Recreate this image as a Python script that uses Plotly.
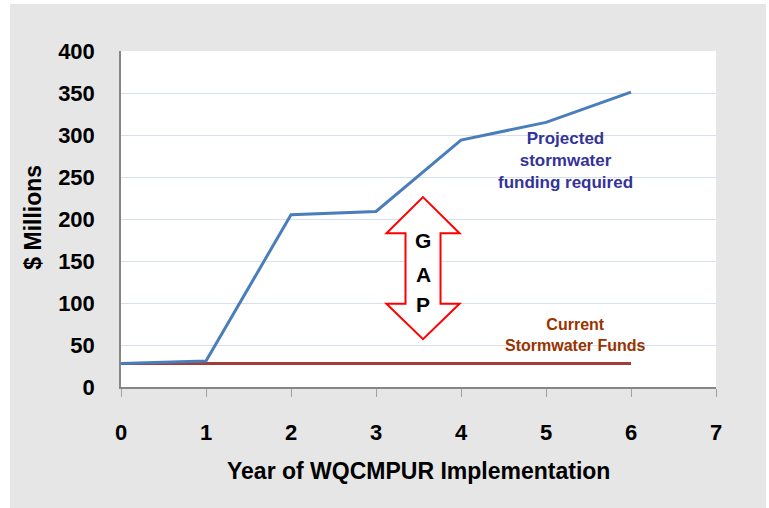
import plotly.graph_objects as go

years = [0, 1, 2, 3, 4, 5, 6]
projected = [28, 31, 205, 209, 294, 315, 351]
current = [28, 28, 28, 28, 28, 28, 28]

x_ticks = [0, 1, 2, 3, 4, 5, 6, 7]
y_ticks = [0, 50, 100, 150, 200, 250, 300, 350, 400]

# GAP double arrow geometry (data units)
gap_x_center = 3.553
gap_head_half = 0.43
gap_shaft_half = 0.206
gap_top = 226
gap_top_base = 183
gap_bot_base = 99
gap_bot = 57

FONT = "Liberation Sans, Arial, sans-serif"

fig = go.Figure()
fig.add_trace(go.Scatter(x=years, y=current, mode="lines",
                         line=dict(color="#a33d3a", width=3), showlegend=False))
fig.add_trace(go.Scatter(x=years, y=projected, mode="lines",
                         line=dict(color="#4a7ebb", width=3), showlegend=False))

W, H = 769, 508
L, R, T, B = 121, 53, 51, 121
pw, ph = W - L - R, H - T - B

def px_to_paper_x(px):
    return (px - L) / pw

def px_to_paper_y(py):
    return (H - B - py) / ph

shapes = [
    dict(type="rect", xref="paper", yref="paper", layer="below",
         x0=px_to_paper_x(10), x1=px_to_paper_x(766),
         y0=px_to_paper_y(508), y1=px_to_paper_y(4),
         fillcolor="#e6e6e6", line=dict(width=0)),
    dict(type="rect", xref="paper", yref="paper", layer="below",
         x0=0, x1=1, y0=0, y1=1, fillcolor="white", line=dict(width=0)),
]

cx = gap_x_center
hh, sh = gap_head_half, gap_shaft_half
path = (f"M {cx},{gap_top} L {cx+hh},{gap_top_base} L {cx+sh},{gap_top_base} "
        f"L {cx+sh},{gap_bot_base} L {cx+hh},{gap_bot_base} L {cx},{gap_bot} "
        f"L {cx-hh},{gap_bot_base} L {cx-sh},{gap_bot_base} L {cx-sh},{gap_top_base} "
        f"L {cx-hh},{gap_top_base} Z")
shapes.append(dict(type="path", xref="x", yref="y", path=path,
                   fillcolor="white", line=dict(color="#ff0000", width=2)))

annotations = [
    dict(text="$ Millions", xref="paper", yref="paper",
         x=px_to_paper_x(33), y=0.504, textangle=-90, showarrow=False,
         xanchor="center", yanchor="middle",
         font=dict(family=FONT, size=23, color="black", weight="bold")),
    dict(text="Year of WQCMPUR Implementation", xref="paper", yref="paper",
         x=0.5, y=px_to_paper_y(471), showarrow=False,
         xanchor="center", yanchor="middle",
         font=dict(family=FONT, size=23, color="black", weight="bold")),
    dict(text="Projected<br>stormwater<br>funding required", xref="x", yref="y",
         x=5.235, y=270, showarrow=False, xanchor="center", yanchor="middle",
         font=dict(family=FONT, size=17, color="#333399", weight="bold")),
    dict(text="Current<br>Stormwater Funds", xref="x", yref="y",
         x=5.35, y=62, showarrow=False, xanchor="center", yanchor="middle",
         font=dict(family=FONT, size=16, color="#993300", weight="bold")),
]
for letter, yv in zip(["G", "A", "P"], [175, 134, 98]):
    annotations.append(dict(text=letter, xref="x", yref="y", x=cx, y=yv,
                            showarrow=False, xanchor="center", yanchor="middle",
                            font=dict(family=FONT, size=21, color="black", weight="bold")))

fig.update_layout(
    width=W, height=H,
    margin=dict(l=L, r=R, t=T, b=B),
    paper_bgcolor="white", plot_bgcolor="white",
    shapes=shapes, annotations=annotations,
    xaxis=dict(range=[0, 7], tickvals=x_ticks, showgrid=False, zeroline=False,
               showline=True, linecolor="#868686", linewidth=1.5,
               ticks="outside", ticklen=8, tickcolor="#a0a0a0",
               ticklabelstandoff=17,
               tickfont=dict(family=FONT, size=22, color="black", weight="bold")),
    yaxis=dict(range=[0, 400], tickvals=y_ticks, showgrid=True,
               gridcolor="#d6e0ee", gridwidth=1, zeroline=False,
               showline=True, linecolor="#868686", linewidth=1.5,
               ticks="", ticklabelstandoff=20,
               tickfont=dict(family=FONT, size=22, color="black", weight="bold")),
)

fig.write_html("out.html", config={"displayModeBar": False},
               post_script="document.body.style.margin='0px';")
